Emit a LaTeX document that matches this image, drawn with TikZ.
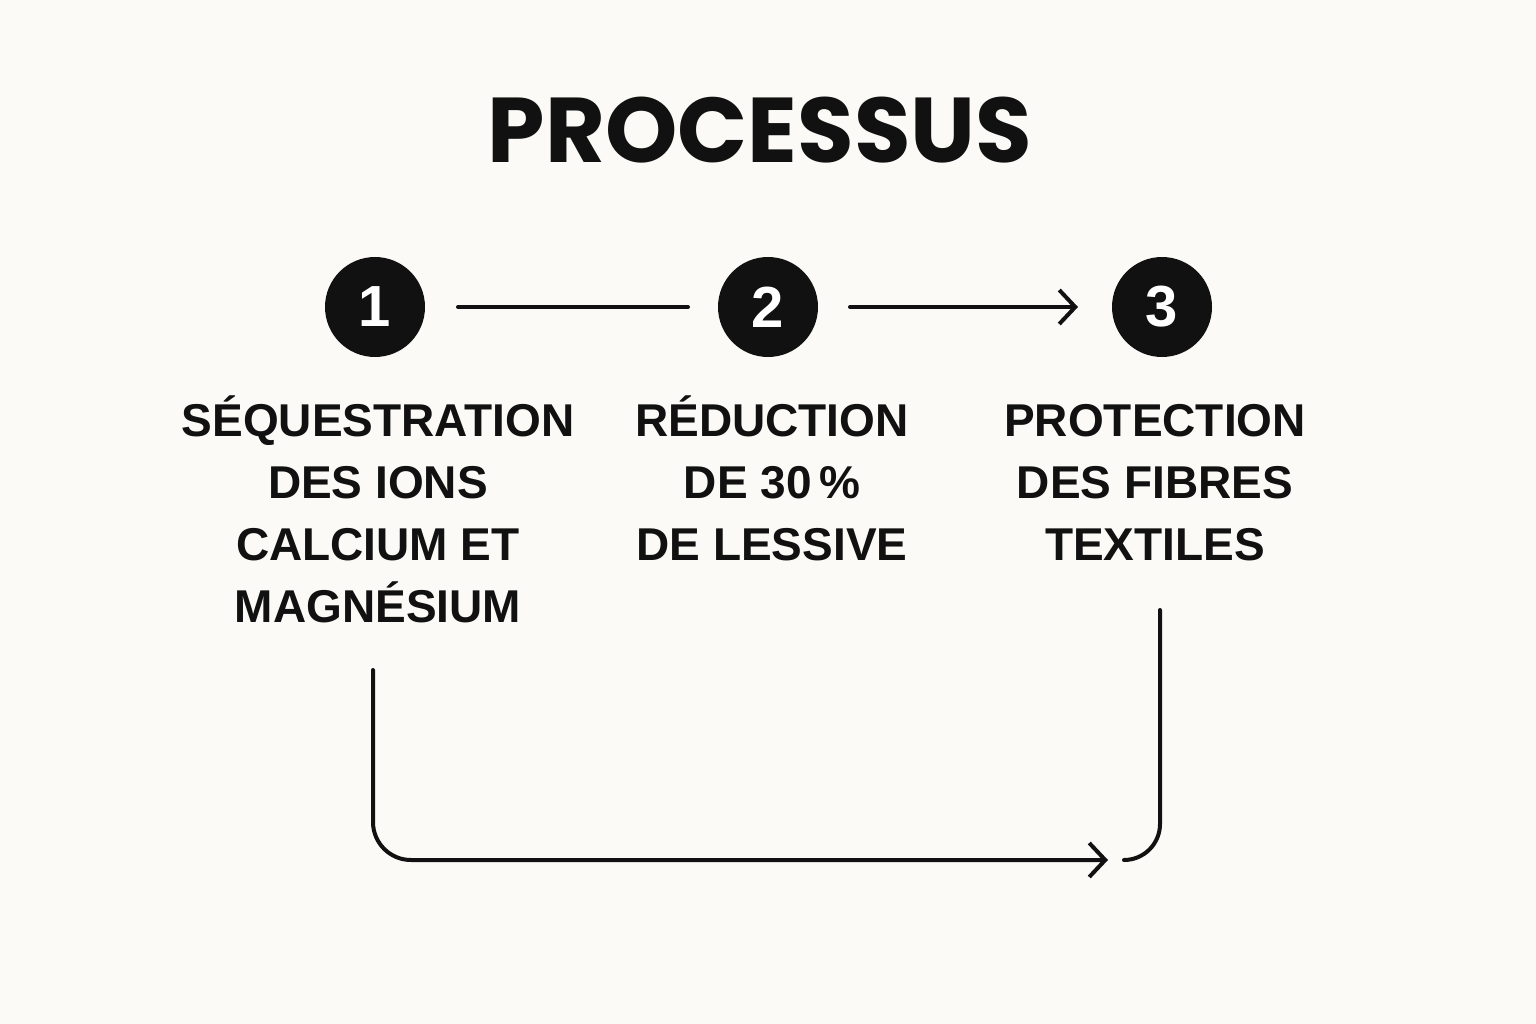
\documentclass[tikz,border=0pt]{standalone}
\usepackage{fontspec}
\setmainfont{Liberation Sans}
\newfontfamily\titlefont{Poppins}
\usetikzlibrary{arrows.meta}
\definecolor{bg}{HTML}{FBFAF6}
\definecolor{ink}{HTML}{111111}
\begin{document}
\begin{tikzpicture}[x=1pt,y=-1pt,
  num/.style={circle,fill=ink,minimum size=100pt,inner sep=0pt,text=white,font=\bfseries\fontsize{58}{58}\selectfont},
  lbl/.style={align=center,text=ink,font=\bfseries\fontsize{46}{62}\selectfont},
  conn/.style={draw=ink,line width=4pt,line cap=round},
  tip/.style={-{Straight Barb[length=16pt,width=34pt,line width=4pt]}}]
\fill[bg] (0,0) rectangle (1536,1024);
\useasboundingbox (0,0) rectangle (1536,1024);
\node[text=ink,font=\titlefont\bfseries\fontsize{92}{92}\selectfont] (title) at (760,130) {PROCESSUS};
\node[num] (n1) at (375,307) {1};
\node[num] (n2) at (768,307) {2};
\node[num] (n3) at (1162,307) {3};
\coordinate (a1) at (458,307); \coordinate (b1) at (688,307);
\coordinate (a2) at (850,307); \coordinate (b2) at (1078,307);
\draw[conn] (a1) -- (b1);
\draw[conn,tip] (a2) -- (b2);
\node[lbl,anchor=north] (t1) at (378,392) {SÉQUESTRATION\\DES IONS\\CALCIUM ET\\MAGNÉSIUM};
\node[lbl,anchor=north] (t2) at (772,392) {RÉDUCTION\\DE 30\,\%\\DE LESSIVE};
\node[lbl,anchor=north] (t3) at (1155,392) {\vphantom{É}PROTECTION\\DES FIBRES\\TEXTILES};
\coordinate (c1) at (373,670); \coordinate (c2) at (1108,860);
\coordinate (d1) at (1160,610); \coordinate (d2) at (1124,860);
\draw[conn,tip,rounded corners=38pt] (c1) -- (373,860) -- (c2);
\draw[conn,rounded corners=36pt] (d1) -- (1160,860) -- (d2);
\end{tikzpicture}
\end{document}
